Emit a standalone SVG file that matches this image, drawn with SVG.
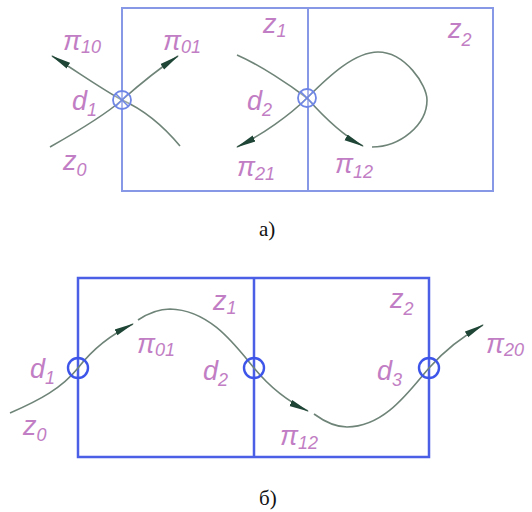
<svg xmlns="http://www.w3.org/2000/svg" width="532" height="512" viewBox="0 0 532 512">
<defs>
<style>
.lbl{font-family:"Liberation Sans",Arial,sans-serif;font-style:italic;font-size:27px;fill:#c27ec4}
.sub{font-size:18px}
.cap{font-family:"Liberation Serif","Times New Roman",serif;font-size:21px;fill:#111}
.boxA{fill:none;stroke:#8798e6;stroke-width:2}
.boxB{fill:none;stroke:#4b5fe6;stroke-width:2.5}
.cur{fill:none;stroke:#6f8478;stroke-width:1.6}
.arr{marker-end:url(#ah)}
.nodeA{fill:#fff;fill-opacity:0.3;stroke:#6f86e6;stroke-width:1.8}
.nodeB{fill:none;stroke:#3e55ea;stroke-width:2.4}
</style>
<marker id="ah" viewBox="0 0 20 8" refX="19" refY="4" markerWidth="20" markerHeight="8" markerUnits="userSpaceOnUse" orient="auto">
<path d="M0,1 L20,4 L0,7.5 Z" fill="#1e4536"/>
</marker>
</defs>

<g id="frameA">
<rect class="boxA" x="122" y="8" width="371" height="183"/>
<line class="boxA" x1="308" y1="8" x2="308" y2="191"/>
</g>
<g id="frameB">
<rect class="boxB" x="78" y="278" width="351" height="179"/>
<line class="boxB" x1="254" y1="278" x2="254" y2="457"/>
</g>

<g id="connectors">
<path class="cur arr" d="M180,146 C160,122 140,108 122,100 C100,88 75,70 52,56"/>
<path class="cur arr" d="M50,147 C80,130 105,115 122,100 C140,84 160,68 178,56"/>
<path class="cur" d="M237,55 C260,65 290,85 307,98 C330,75 355,52 378,52 C405,52 427,85 427,100 C427,125 400,147 372,147"/>
<path class="cur arr" d="M307,98 C322,115 342,135 363,146"/>
<path class="cur arr" d="M307,98 C290,115 262,135 237,147"/>

<path class="cur arr" d="M10,413 C40,400 62,388 78,368 C92,350 110,335 133,324"/>
<path class="cur arr" d="M138,320 C150,312 160,309 170,309 C210,310 235,345 254,368 C268,385 285,400 308,411"/>
<path class="cur arr" d="M314,414 C325,422 335,427 347,427 C385,427 410,390 429,368 C445,350 465,335 483,325"/>
</g>

<g id="d1a">
<circle class="nodeA" cx="122" cy="100" r="9"/>
<path d="M116,94 L128,106 M128,94 L116,106" stroke="#6f86e6" stroke-width="1.5"/>
</g>
<g id="d2a">
<circle class="nodeA" cx="307" cy="98" r="9"/>
<path d="M301,92 L313,104 M313,92 L301,104" stroke="#6f86e6" stroke-width="1.5"/>
</g>
<g id="d1b"><circle class="nodeB" cx="78" cy="368" r="10"/></g>
<g id="d2b"><circle class="nodeB" cx="254" cy="368" r="10"/></g>
<g id="d3b"><circle class="nodeB" cx="429" cy="368" r="10"/></g>

<g id="labelsA">
<text class="lbl" x="63" y="50">π<tspan class="sub" dy="3">10</tspan></text>
<text class="lbl" x="163" y="50">π<tspan class="sub" dy="3">01</tspan></text>
<text class="lbl" x="72" y="110">d<tspan class="sub" dy="6">1</tspan></text>
<text class="lbl" x="63" y="170">z<tspan class="sub" dy="6">0</tspan></text>
<text class="lbl" x="263" y="33">z<tspan class="sub" dy="4">1</tspan></text>
<text class="lbl" x="448" y="38">z<tspan class="sub" dy="8">2</tspan></text>
<text class="lbl" x="247" y="110">d<tspan class="sub" dy="6">2</tspan></text>
<text class="lbl" x="237" y="176">π<tspan class="sub" dy="4">21</tspan></text>
<text class="lbl" x="335" y="173">π<tspan class="sub" dy="5">12</tspan></text>
<text class="cap" x="259" y="236">а)</text>
</g>

<g id="labelsB">
<text class="lbl" x="30" y="378">d<tspan class="sub" dy="6">1</tspan></text>
<text class="lbl" x="23" y="435">z<tspan class="sub" dy="6">0</tspan></text>
<text class="lbl" x="137" y="353">π<tspan class="sub" dy="3">01</tspan></text>
<text class="lbl" x="213" y="310">z<tspan class="sub" dy="4">1</tspan></text>
<text class="lbl" x="203" y="380">d<tspan class="sub" dy="6">2</tspan></text>
<text class="lbl" x="390" y="308">z<tspan class="sub" dy="7">2</tspan></text>
<text class="lbl" x="377" y="380">d<tspan class="sub" dy="6">3</tspan></text>
<text class="lbl" x="486" y="353">π<tspan class="sub" dy="3">20</tspan></text>
<text class="lbl" x="280" y="445">π<tspan class="sub" dy="4">12</tspan></text>
<text class="cap" x="259" y="505">б)</text>
</g>
</svg>
